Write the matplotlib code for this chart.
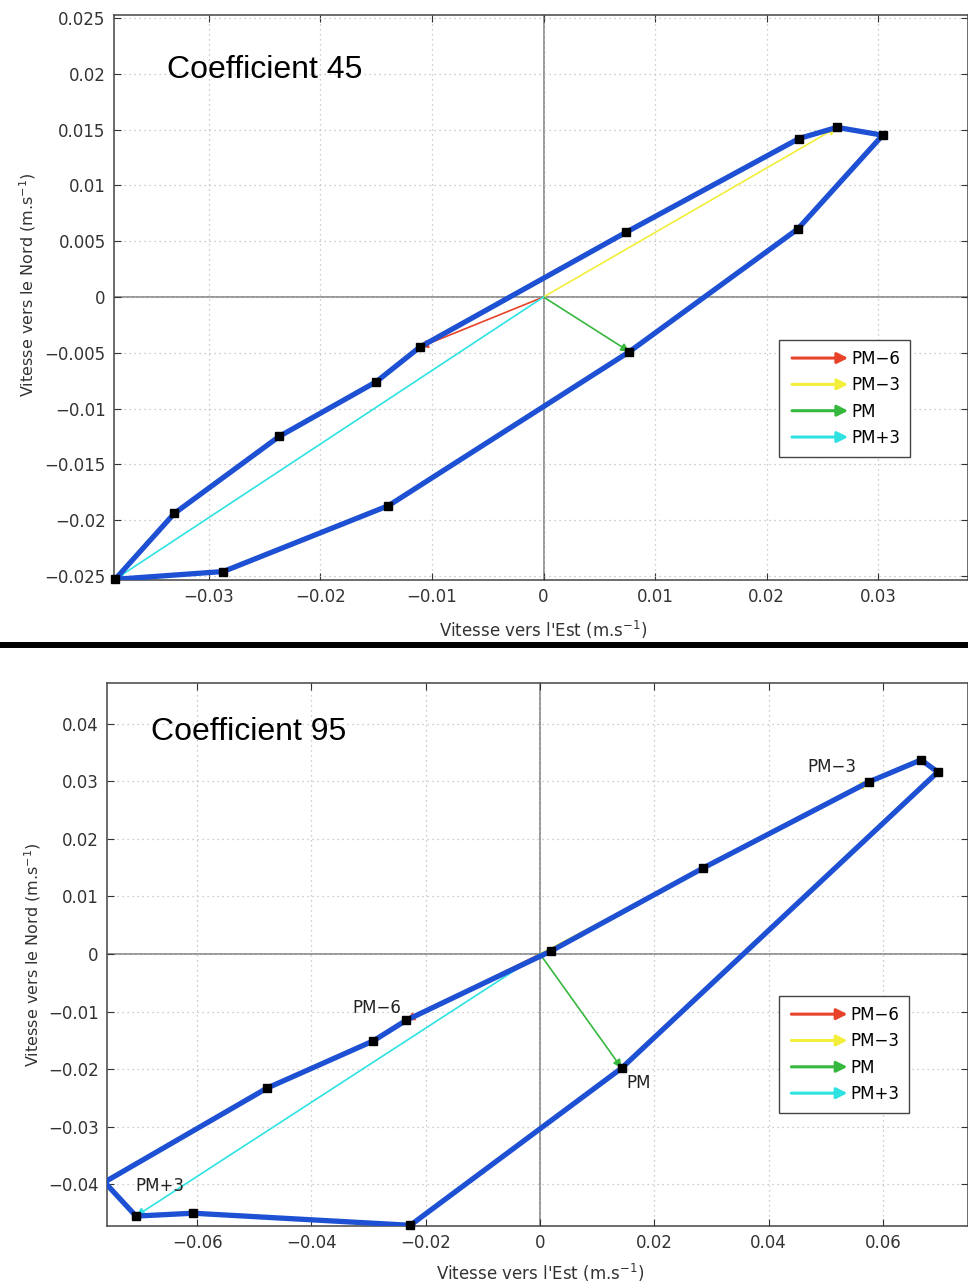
# Hodographes du courant de marée (coefficients 45 et 95)
import numpy as np
import matplotlib.pyplot as plt
import matplotlib.patches as mpatches
from matplotlib.legend_handler import HandlerPatch
from matplotlib.lines import Line2D

plt.rcParams['font.family'] = ['DejaVu Sans']
plt.rcParams['mathtext.fontset'] = 'dejavusans'

# Données (points horaires, en commençant à PM-6)
pm_labels = ['PM−6', 'PM−3', 'PM', 'PM+3']
pm_colors = ['#e8432a', '#f2ee3a', '#36b83e', '#2fe2e2']

u45 = [-0.0111, 0.0074, 0.0229, 0.0263, 0.0304, 0.0228, 0.0077,
       -0.0139, -0.0287, -0.0384, -0.0331, -0.0237, -0.0150]
v45 = [-0.0045, 0.0058, 0.0142, 0.0152, 0.0145, 0.0061, -0.0049,
       -0.0187, -0.0246, -0.0253, -0.0194, -0.0125, -0.0076]
pm_idx45 = [0, 3, 6, 9]

u95 = [-0.0234, 0.0019, 0.0285, 0.0576, 0.0667, 0.0696, 0.0143,
       -0.0227, -0.0607, -0.0707, -0.0762, -0.0478, -0.0292]
v95 = [-0.0115, 0.0005, 0.0149, 0.0299, 0.0337, 0.0316, -0.0198,
       -0.0471, -0.0450, -0.0455, -0.0396, -0.0233, -0.0151]
pm_idx95 = [0, 3, 6, 9]

xticks45 = [-0.03, -0.02, -0.01, 0, 0.01, 0.02, 0.03]
yticks45 = [-0.025, -0.02, -0.015, -0.01, -0.005, 0, 0.005, 0.01, 0.015, 0.02, 0.025]
xticks95 = [-0.06, -0.04, -0.02, 0, 0.02, 0.04, 0.06]
yticks95 = [-0.04, -0.03, -0.02, -0.01, 0, 0.01, 0.02, 0.03, 0.04]

BLUE = '#1d50d2'
W, H = 968, 1284
FS = 12


def fmt(v):
    return ('%g' % v).replace('-', '−')


def arrow_handle(legend, orig_handle, xdescent, ydescent, width, height, fontsize):
    return mpatches.FancyArrowPatch((0, height / 2), (width, height / 2),
                                    arrowstyle='-|>', mutation_scale=16)


def draw_panel(ax, u, v, pm_idx, xlim, ylim, xticks, yticks, title, title_pos,
               legend_anchor, point_labels=None):
    ax.set_xlim(xlim)
    ax.set_ylim(ylim)
    ax.set_xticks(xticks)
    ax.set_yticks(yticks)
    ax.set_xticklabels([fmt(t) for t in xticks])
    ax.set_yticklabels([fmt(t) for t in yticks])
    ax.grid(True, linestyle=(0, (1, 3)), color='#bdbdbd', lw=0.9)
    ax.axhline(0, color='#7a7a7a', lw=1.1, zorder=1)
    ax.axvline(0, color='#7a7a7a', lw=1.1, zorder=1)
    ax.tick_params(direction='in', top=True, right=True, length=5,
                   labelsize=FS, colors='#333333', pad=6)
    for s in ax.spines.values():
        s.set_color('#444444')
        s.set_linewidth(1.1)

    # flèches PM-6, PM-3, PM, PM+3 depuis l'origine
    for i, c in zip(pm_idx, pm_colors):
        ax.annotate('', xy=(u[i], v[i]), xytext=(0, 0),
                    arrowprops=dict(arrowstyle='-|>', color=c, lw=1.2,
                                    shrinkA=0, shrinkB=0, mutation_scale=12),
                    zorder=2)

    uu = np.append(u, u[0])
    vv = np.append(v, v[0])
    ax.plot(uu, vv, color=BLUE, lw=3.8, zorder=3, solid_joinstyle='miter')

    ua, va = np.array(u), np.array(v)
    inside = (ua >= xlim[0]) & (ua <= xlim[1]) & (va >= ylim[0]) & (va <= ylim[1])
    ax.plot(ua[inside], va[inside], 's', color='black', ms=6, zorder=5, clip_on=False)

    ax.text(title_pos[0], title_pos[1], title, transform=ax.transAxes, fontsize=23,
            va='center', ha='left', family=['Liberation Sans', 'DejaVu Sans'])

    if point_labels:
        for i, lab, off in point_labels:
            ax.annotate(lab, xy=(u[i], v[i]), xytext=off, textcoords='offset points',
                        ha='center', va='center', fontsize=FS, color='#222222')

    handles = [mpatches.Patch(facecolor=c, edgecolor=c, lw=2.2, label=l)
               for c, l in zip(pm_colors, pm_labels)]
    leg = ax.legend(handles=handles, loc='upper left', bbox_to_anchor=legend_anchor,
                    handler_map={mpatches.Patch: HandlerPatch(patch_func=arrow_handle)},
                    fontsize=FS, handlelength=3.7, handletextpad=0.0,
                    labelspacing=0.5, borderpad=0.6, borderaxespad=0,
                    fancybox=False, framealpha=1, edgecolor='#444444')
    leg.get_frame().set_linewidth(1.0)

    ax.set_xlabel('Vitesse vers l\'Est (m.s$^{-1}$)', fontsize=FS, color='#333333')
    ax.set_ylabel('Vitesse vers le Nord (m.s$^{-1}$)', fontsize=11.5, color='#333333')


fig = plt.figure(figsize=(W / 100, H / 100), dpi=100)

# panneau du haut : coefficient 45
ax1 = fig.add_axes([114 / W, 1 - 580 / H, (W - 114) / W, 565 / H])
draw_panel(ax1, u45, v45, pm_idx45, (-0.0385, 0.03805), (-0.02536, 0.02527),
           xticks45, yticks45, 'Coefficient 45', (0.062, 0.903), (0.779, 0.425))
ax1.xaxis.set_label_coords(0.502, -0.068)
ax1.yaxis.set_label_coords(-0.089, 0.522)

# panneau du bas : coefficient 95
ax2 = fig.add_axes([107 / W, 1 - 1226 / H, (W - 107) / W, 543 / H])
draw_panel(ax2, u95, v95, pm_idx95, (-0.07577, 0.0749), (-0.04722, 0.04705),
           xticks95, yticks95, 'Coefficient 95', (0.051, 0.91), (0.780, 0.4236),
           point_labels=[(0, 'PM−6', (-21, 9)), (3, 'PM−3', (-27, 11)),
                         (6, 'PM', (12, -11)), (9, 'PM+3', (17, 22))])
ax2.xaxis.set_label_coords(0.503, -0.066)
ax2.yaxis.set_label_coords(-0.074, 0.499)

# trait noir de séparation
fig.add_artist(Line2D([0, 1], [1 - 644.5 / H, 1 - 644.5 / H], transform=fig.transFigure,
                      color='black', lw=4.3))

fig.savefig('out.png', dpi=100)
